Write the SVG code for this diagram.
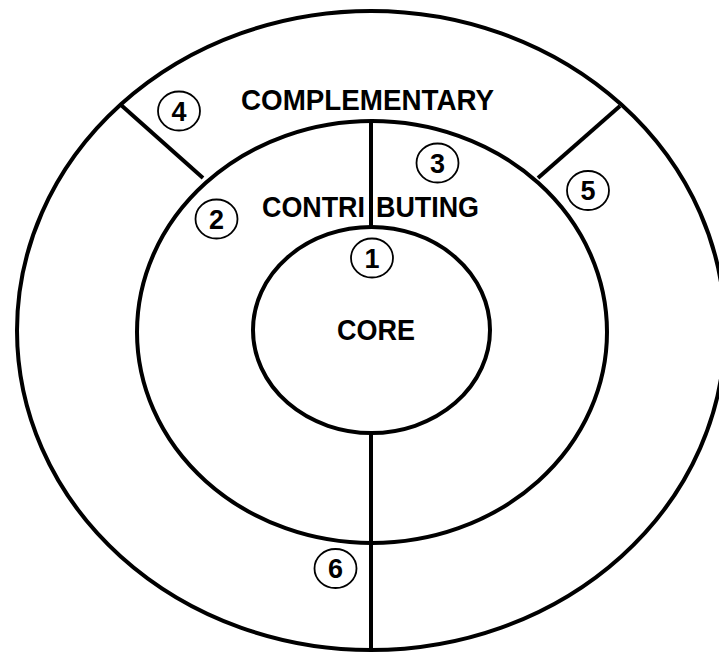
<svg xmlns="http://www.w3.org/2000/svg" width="719" height="654" viewBox="0 0 719 654">
<style>
.ring{fill:none;stroke:#000;stroke-width:4}
.sep{stroke:#000;stroke-width:4;fill:none}
.lbl{font-family:"Liberation Sans",Arial,sans-serif;font-weight:bold;fill:#000}
.num ellipse{fill:none;stroke:#000;stroke-width:1.8}
.num text{font-family:"Liberation Sans",Arial,sans-serif;font-weight:bold;font-size:27px;text-anchor:middle;fill:#000}
</style>
<rect width="719" height="654" fill="#fff"/>
<g id="complementary">
<ellipse class="ring" cx="371" cy="330.5" rx="354" ry="319.5"/>
<text class="lbl" x="241" y="109.5" font-size="30" textLength="253" lengthAdjust="spacingAndGlyphs">COMPLEMENTARY</text>
</g>
<g id="contributing">
<ellipse class="ring" cx="372" cy="332" rx="235" ry="211"/>
<text class="lbl" font-size="29"><tspan x="262" y="216.5" textLength="103" lengthAdjust="spacingAndGlyphs">CONTRI</tspan> <tspan x="376" y="216.5" textLength="103" lengthAdjust="spacingAndGlyphs">BUTING</tspan></text>
</g>
<g id="core">
<ellipse class="ring" cx="371.5" cy="330" rx="118.5" ry="103"/>
<text class="lbl" x="337" y="339.5" font-size="29" textLength="78" lengthAdjust="spacingAndGlyphs">CORE</text>
</g>
<g id="connectors">
<line class="sep" x1="371" y1="121" x2="371" y2="227"/>
<line class="sep" x1="371" y1="433" x2="371" y2="650"/>
<line class="sep" x1="121" y1="105" x2="203" y2="178"/>
<line class="sep" x1="620" y1="106" x2="538" y2="178"/>
</g>
<g id="n1" class="num"><ellipse cx="372" cy="258" rx="21" ry="19.5"/><text x="372" y="267.5">1</text></g>
<g id="n2" class="num"><ellipse cx="216.5" cy="219" rx="21" ry="19.5"/><text x="216.5" y="228.5">2</text></g>
<g id="n3" class="num"><ellipse cx="437.5" cy="163" rx="21" ry="19.5"/><text x="437.5" y="172.5">3</text></g>
<g id="n4" class="num"><ellipse cx="179" cy="111" rx="21" ry="19.5"/><text x="179" y="120.5">4</text></g>
<g id="n5" class="num"><ellipse cx="588" cy="190.5" rx="21" ry="19.5"/><text x="588" y="200">5</text></g>
<g id="n6" class="num"><ellipse cx="335.5" cy="568.5" rx="21" ry="19.5"/><text x="335.5" y="578">6</text></g>
</svg>
